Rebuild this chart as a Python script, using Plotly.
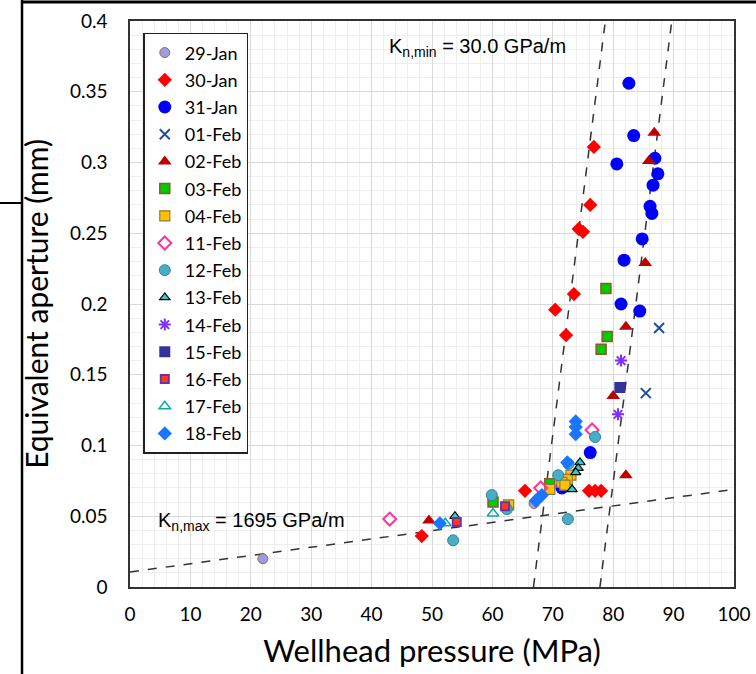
import plotly.graph_objects as go

# ---------------- data ----------------
jan29_x = [22.0, 66.9]
jan29_y = [0.020, 0.059]

jan30_x = [76.8, 76.2, 74.3, 75.0, 73.5, 70.4, 72.2, 65.4, 76.0, 77.0, 78.0, 48.3]
jan30_y = [0.311, 0.270, 0.253, 0.251, 0.207, 0.196, 0.178, 0.068, 0.068, 0.068, 0.068, 0.036]

jan31_x = [82.6, 83.4, 80.6, 86.9, 87.4, 86.6, 86.1, 86.4, 84.8, 81.8, 81.3, 84.4, 76.2, 71.5]
jan31_y = [0.356, 0.319, 0.299, 0.303, 0.292, 0.284, 0.269, 0.264, 0.246, 0.231, 0.200, 0.195, 0.095, 0.070]

feb01_x = [87.6, 85.4]
feb01_y = [0.183, 0.137]

feb02_x = [86.8, 85.9, 85.3, 82.1, 80.0, 82.1, 49.5]
feb02_y = [0.321, 0.301, 0.229, 0.184, 0.135, 0.079, 0.047]

feb03_x = [78.8, 79.0, 78.0, 69.5, 60.1]
feb03_y = [0.211, 0.177, 0.168, 0.073, 0.060]

feb04_x = [73.0, 72.4, 71.5, 72.0, 69.5, 62.7]
feb04_y = [0.079, 0.076, 0.074, 0.072, 0.069, 0.058]

feb11_x = [76.5, 68.0, 43.0]
feb11_y = [0.111, 0.070, 0.048]

feb12_x = [77.0, 70.9, 72.5, 59.9, 62.4, 53.5, 72.6]
feb12_y = [0.106, 0.079, 0.048, 0.065, 0.055, 0.033, 0.087]

feb13_x = [74.5, 74.2, 73.8, 73.2, 53.8]
feb13_y = [0.088, 0.084, 0.081, 0.069, 0.050]

feb14_x = [81.3, 80.8]
feb14_y = [0.160, 0.122]

feb15_x = [81.1]
feb15_y = [0.141]

feb16_x = [62.1, 54.1]
feb16_y = [0.057, 0.046]

feb17_x = [60.1, 52.2]
feb17_y = [0.052, 0.045]

feb18_x = [73.8, 73.8, 73.8, 72.4, 68.2, 67.7, 67.2, 51.3]
feb18_y = [0.117, 0.113, 0.108, 0.088, 0.065, 0.063, 0.061, 0.045]

# dashed stiffness lines (end points)
kmax_x = [0, 100]
kmax_y = [0.0106, 0.069]
kmin_left_x = [66.8, 78.7]
kmin_left_y = [0.0, 0.4]
kmin_right_x = [77.8, 89.7]
kmin_right_y = [0.0, 0.4]

x_ticks = [0, 10, 20, 30, 40, 50, 60, 70, 80, 90, 100]
y_ticks = [0, 0.05, 0.1, 0.15, 0.2, 0.25, 0.3, 0.35, 0.4]
y_tick_labels = ["0", "0.05", "0.1", "0.15", "0.2", "0.25", "0.3", "0.35", "0.4"]

series = [
    ("29-Jan", jan29_x, jan29_y, dict(symbol="circle", size=10, color="#9c9ce6", line=dict(color="#9b6b3c", width=1))),
    ("30-Jan", jan30_x, jan30_y, dict(symbol="diamond", size=11, color="#ff0000", line=dict(width=0))),
    ("31-Jan", jan31_x, jan31_y, dict(symbol="circle", size=13, color="#0000ff", line=dict(width=0))),
    ("01-Feb", feb01_x, feb01_y, dict(symbol="x-thin", size=10, color="#1f4e9f", line=dict(color="#1f4e9f", width=2))),
    ("02-Feb", feb02_x, feb02_y, dict(symbol="triangle-up", size=12, color="#c00000", line=dict(width=0))),
    ("03-Feb", feb03_x, feb03_y, dict(symbol="square", size=10, color="#00cc00", line=dict(color="#8b5a2b", width=1.5))),
    ("04-Feb", feb04_x, feb04_y, dict(symbol="square", size=10, color="#ffc000", line=dict(color="#8c7a3c", width=1.2))),
    ("11-Feb", feb11_x, feb11_y, dict(symbol="diamond-open", size=10, color="#ff3399", line=dict(color="#ff3399", width=2))),
    ("12-Feb", feb12_x, feb12_y, dict(symbol="circle", size=11, color="#4bacc6", line=dict(color="#31859c", width=1))),
    ("13-Feb", feb13_x, feb13_y, dict(symbol="triangle-up", size=9, color="#33cccc", line=dict(color="#000000", width=1.2))),
    ("14-Feb", feb14_x, feb14_y, dict(symbol="asterisk-open", size=10, color="#7f2fff", line=dict(color="#7f2fff", width=2))),
    ("15-Feb", feb15_x, feb15_y, dict(symbol="square", size=11, color="#333399", line=dict(width=0))),
    ("16-Feb", feb16_x, feb16_y, dict(symbol="square", size=8, color="#ff3b1f", line=dict(color="#7030a0", width=2))),
    ("17-Feb", feb17_x, feb17_y, dict(symbol="triangle-up-open", size=10, color="#14a8a8", line=dict(color="#14a8a8", width=1.5))),
    ("18-Feb", feb18_x, feb18_y, dict(symbol="diamond", size=11, color="#1a75ff", line=dict(width=0))),
]

fig = go.Figure()

for lx, ly in [(kmax_x, kmax_y), (kmin_left_x, kmin_left_y), (kmin_right_x, kmin_right_y)]:
    fig.add_trace(go.Scatter(x=lx, y=ly, mode="lines", showlegend=False, hoverinfo="skip",
                             line=dict(color="#333333", width=1.5, dash="dash")))

for i, (name, xs, ys, mk) in enumerate(series):
    fig.add_trace(go.Scatter(x=xs, y=ys, mode="markers", name=name, marker=mk,
                             legendgroup="g%d" % i))

FONT = "Lato, 'Open Sans', sans-serif"
axis_font = dict(family=FONT, size=19, color="#000000")

fig.update_layout(
    width=756, height=674, autosize=False,
    margin=dict(l=130, r=22, t=21, b=87, autoexpand=False),
    paper_bgcolor="white", plot_bgcolor="white",
    showlegend=True,
    legend=dict(x=0.022, y=0.979, xanchor="left", yanchor="top",
                bordercolor="#222222", borderwidth=1.5, bgcolor="white",
                font=dict(family=FONT, size=18, color="#000"),
                traceorder="grouped", tracegroupgap=0.8, itemwidth=30),
    xaxis=dict(range=[0, 100], tickvals=x_ticks, showgrid=True, gridcolor="#d9d9d9", gridwidth=1.2,
               minor=dict(dtick=2, showgrid=True, gridcolor="#eeeeee", gridwidth=1),
               showline=True, linecolor="#333333", linewidth=1.5, mirror=True, zeroline=False,
               automargin=False,
               ticks="outside", ticklen=9, tickcolor="rgba(0,0,0,0)", tickfont=axis_font,
               title=dict(text="Wellhead pressure (MPa)", font=dict(family=FONT, size=31, color="#000"), standoff=17)),
    yaxis=dict(range=[0, 0.4], tickvals=y_ticks, ticktext=y_tick_labels, showgrid=True, gridcolor="#d9d9d9", gridwidth=1.2,
               minor=dict(dtick=0.01, showgrid=True, gridcolor="#eeeeee", gridwidth=1),
               showline=True, linecolor="#333333", linewidth=1.5, mirror=True, zeroline=False,
               automargin=False,
               ticks="outside", ticklen=17, tickcolor="rgba(0,0,0,0)", tickfont=axis_font,
               title=dict(text="Equivalent aperture (mm)", font=dict(family=FONT, size=30, color="#000"), standoff=12)),
)

ann_font = dict(family="Liberation Sans, Arial, sans-serif", size=20, color="#000")
fig.add_annotation(x=42.5, y=0.3816, xref="x", yref="y", xanchor="left", yanchor="middle",
                   text="K<sub>n,min</sub> = 30.0 GPa/m", showarrow=False, font=ann_font)
fig.add_annotation(x=4.3, y=0.0460, xref="x", yref="y", xanchor="left", yanchor="middle",
                   text="K<sub>n,max</sub> = 1695 GPa/m", showarrow=False, font=ann_font)

# outer frame fragments
fig.add_shape(type="line", xref="paper", yref="paper", x0=-0.1788, x1=-0.1788, y0=-0.16, y1=1.04,
              line=dict(color="#000", width=2.5))
fig.add_shape(type="line", xref="paper", yref="paper", x0=-0.1788, x1=1.04, y0=1.0336, y1=1.0336,
              line=dict(color="#000", width=3))
fig.add_shape(type="line", xref="paper", yref="paper", x0=-0.22, x1=-0.1788, y0=0.6784, y1=0.6784,
              line=dict(color="#000", width=2))

fig.write_html("out.html", config={"displayModeBar": False, "responsive": False},
               post_script="document.body.style.margin='0';")
